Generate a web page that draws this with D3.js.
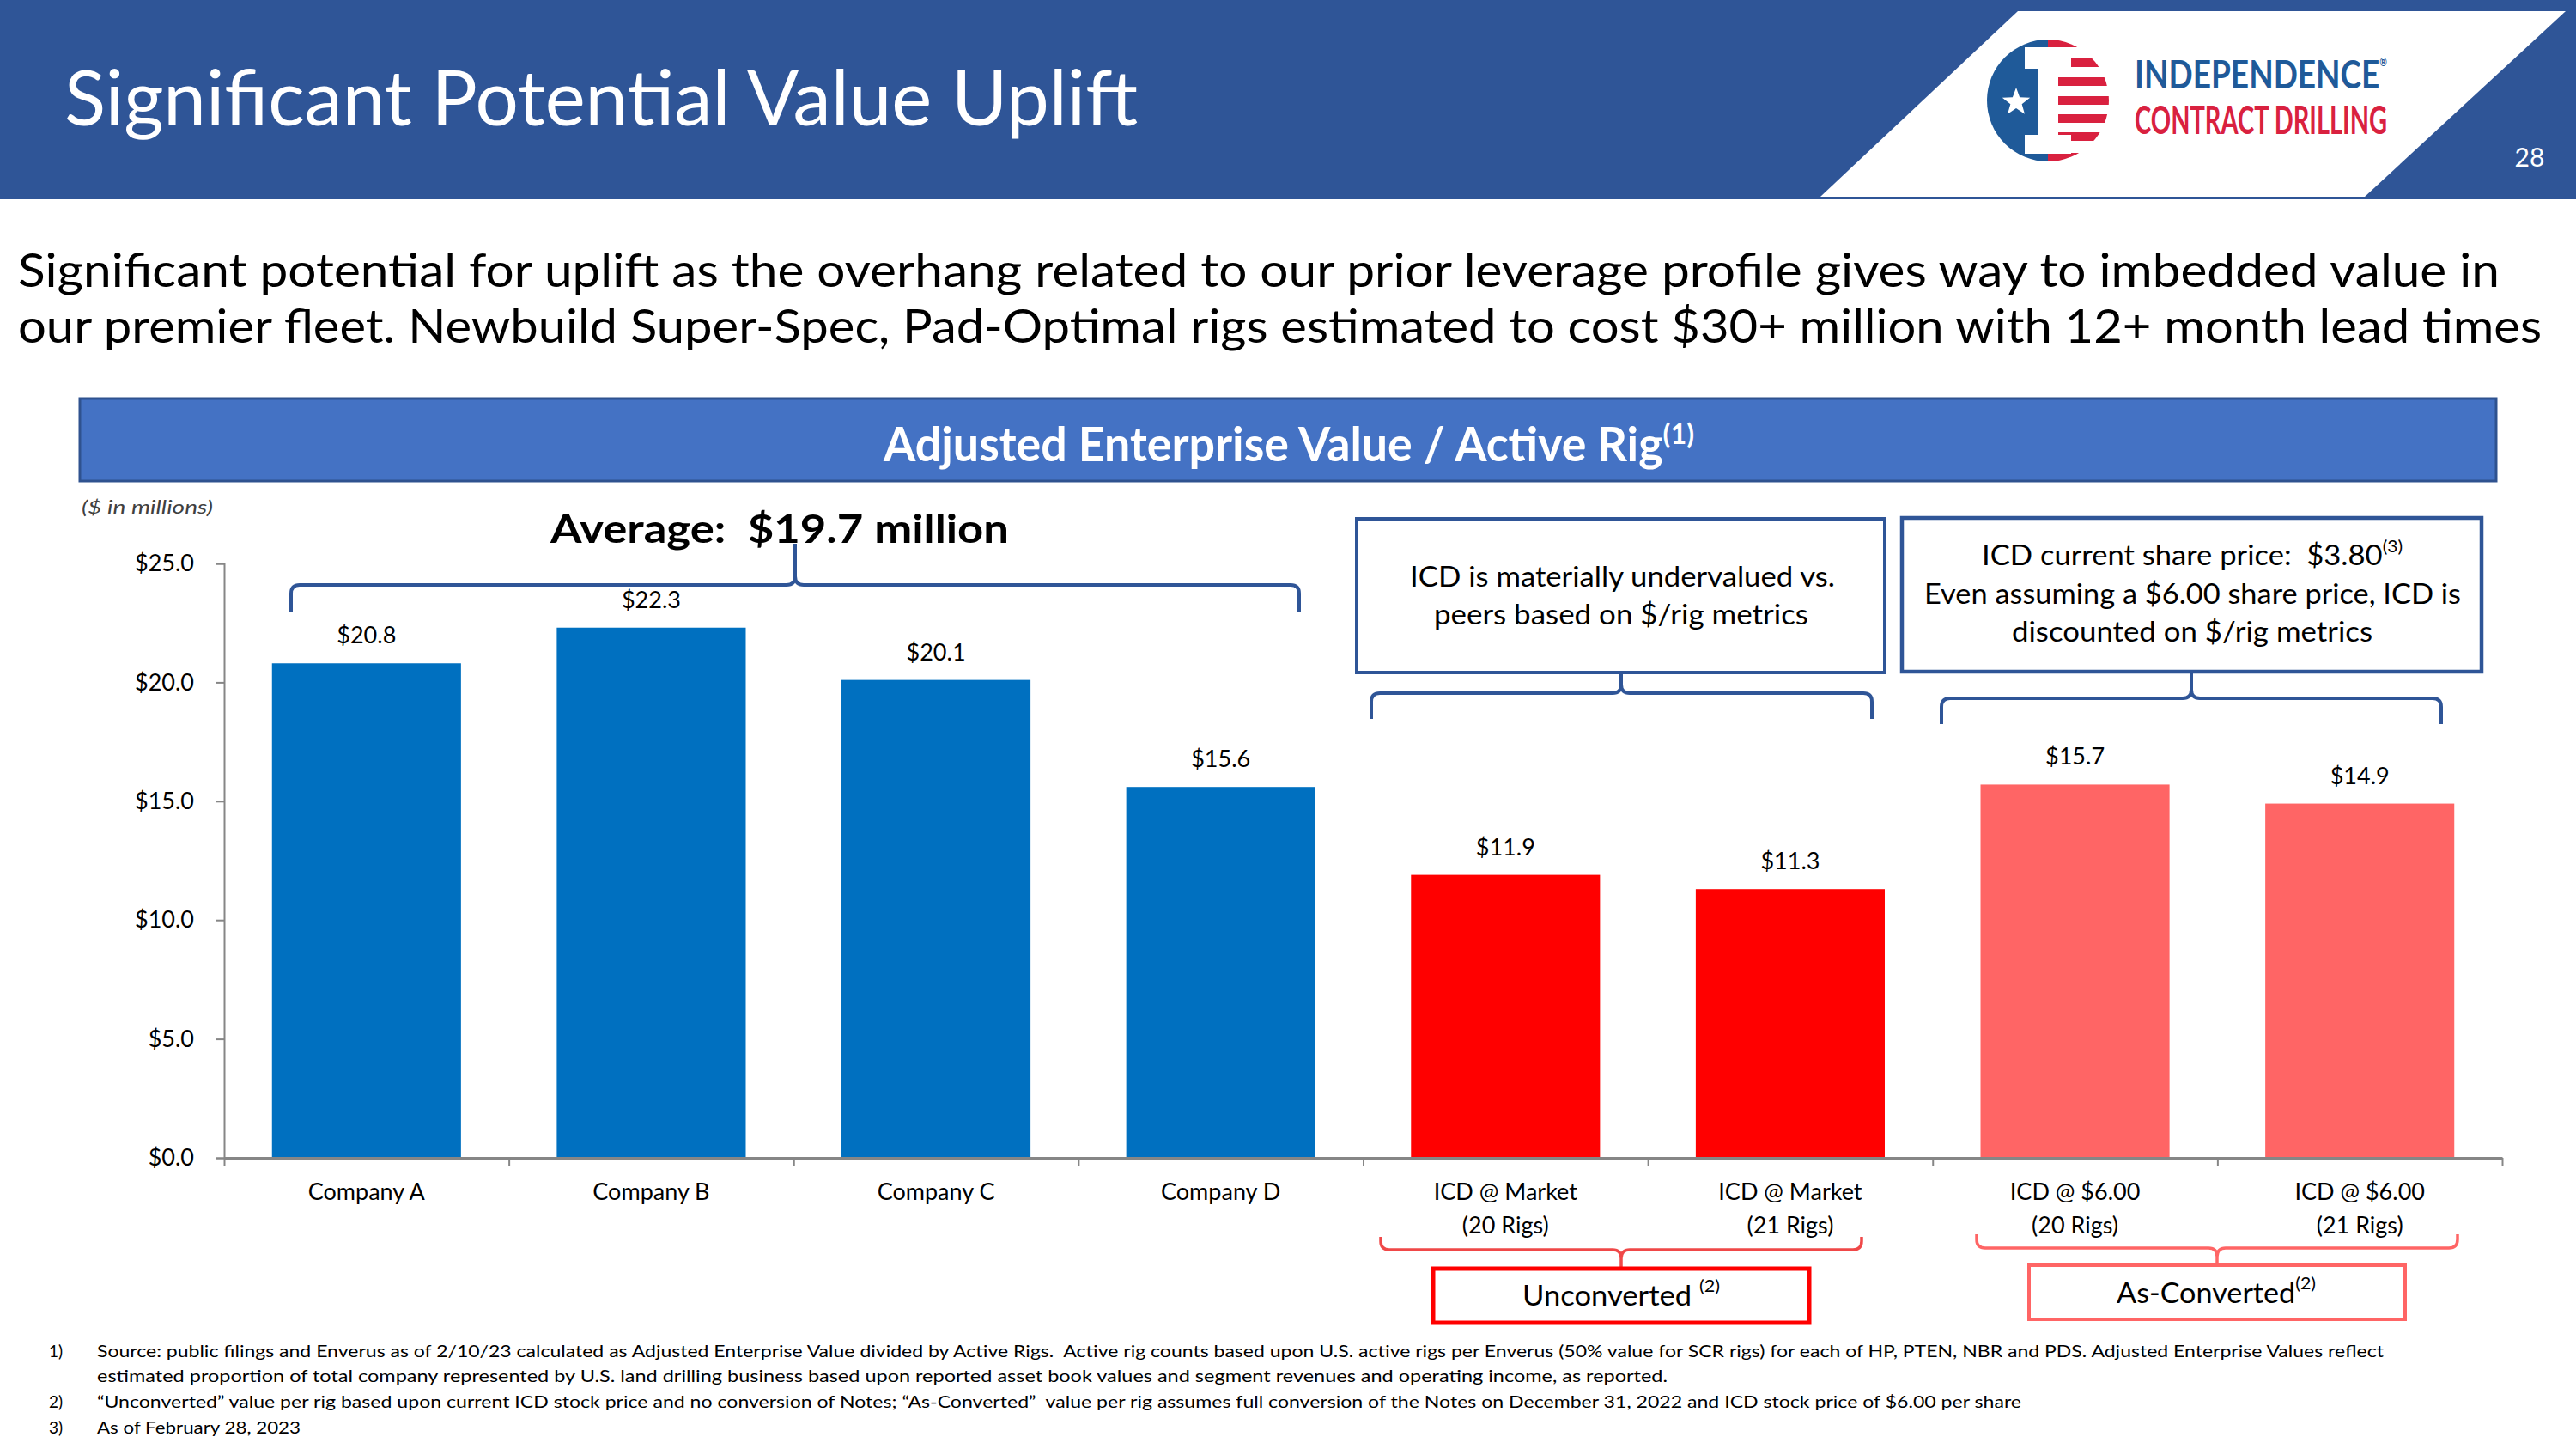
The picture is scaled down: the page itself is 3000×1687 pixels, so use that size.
<!DOCTYPE html>
<html>
<head>
<meta charset="utf-8">
<script src="https://cdn.jsdelivr.net/npm/d3@7"></script>
<style>
  html, body { margin: 0; padding: 0; background: #ffffff; }
  svg { display: block; }
  text { font-family: Lato, "Open Sans", sans-serif; white-space: pre; }
</style>
</head>
<body>
<svg id="chart" width="3000" height="1687"></svg>
<script>
// ---------------- data ----------------
const categoryLine1 = ["Company A", "Company B", "Company C", "Company D", "ICD @ Market", "ICD @ Market", "ICD @ $6.00", "ICD @ $6.00"];
const categoryLine2 = ["", "", "", "", "(20 Rigs)", "(21 Rigs)", "(20 Rigs)", "(21 Rigs)"];
const values = [20.8, 22.3, 20.1, 15.6, 11.9, 11.3, 15.7, 14.9];
const groups = ["peer", "peer", "peer", "peer", "unconverted", "unconverted", "converted", "converted"];
const yTickValues = [0, 5, 10, 15, 20, 25];
const groupColors = { peer: "#0070C0", unconverted: "#FF0000", converted: "#FF6565" };

const titleText = "Significant Potential Value Uplift";
const subtitleLines = [
  "Significant potential for uplift as the overhang related to our prior leverage profile gives way to imbedded value in",
  "our premier fleet. Newbuild Super-Spec, Pad-Optimal rigs estimated to cost $30+ million with 12+ month lead times"
];
const chartTitle = "Adjusted Enterprise Value / Active Rig";
const averageText = "Average:  $19.7 million";
const box1Lines = ["ICD is materially undervalued vs.", "peers based on $/rig metrics"];
const box2Lines = ["ICD current share price:  $3.80", "Even assuming a $6.00 share price, ICD is", "discounted on $/rig metrics"];
const footnoteNums = ["1)", "", "2)", "3)"];
const footnotes = [
  "Source: public filings and Enverus as of 2/10/23 calculated as Adjusted Enterprise Value divided by Active Rigs.  Active rig counts based upon U.S. active rigs per Enverus (50% value for SCR rigs) for each of HP, PTEN, NBR and PDS. Adjusted Enterprise Values reflect",
  "estimated proportion of total company represented by U.S. land drilling business based upon reported asset book values and segment revenues and operating income, as reported.",
  "\u201CUnconverted\u201D value per rig based upon current ICD stock price and no conversion of Notes; \u201CAs-Converted\u201D  value per rig assumes full conversion of the Notes on December 31, 2022 and ICD stock price of $6.00 per share",
  "As of February 28, 2023"
];

// ---------------- setup ----------------
const svg = d3.select("#chart");
const keys = categoryLine1.map((c, i) => c + " " + categoryLine2[i] + "#" + i);
const rows = keys.map((k, i) => ({ key: k, l1: categoryLine1[i], l2: categoryLine2[i], v: values[i], g: groups[i] }));

const x = d3.scaleBand().domain(keys).range([261, 2914]).paddingInner(0.3363).paddingOuter(0.16815);
const y = d3.scaleLinear().domain([0, 25]).range([1348, 656]);

function fitText(sel, w) {
  sel.attr("textLength", w).attr("lengthAdjust", "spacingAndGlyphs");
  return sel;
}
// text with a superscript tspan, fitted as a whole
function supText(xp, yp, size, main, sup, supSize, rise, w, opts) {
  const t = svg.append("text").attr("x", xp).attr("y", yp).attr("font-size", size).attr("fill", opts.fill || "#000");
  if (opts.weight) t.attr("font-weight", opts.weight);
  if (opts.family) t.attr("font-family", opts.family);
  t.append("tspan").text(main);
  t.append("tspan").attr("font-size", supSize).attr("dy", -rise).text(sup);
  return fitText(t, w);
}

// ---------------- header band ----------------
svg.append("rect").attr("x", 0).attr("y", 0).attr("width", 3000).attr("height", 232).attr("fill", "#2F5597");
fitText(svg.append("text").attr("x", 75).attr("y", 146).attr("fill", "#fff")
  .attr("font-size", 89).text(titleText), 1250);

// logo plate
svg.append("polygon").attr("points", "2350,13 2988,13 2754,229 2120,229").attr("fill", "#fff");
const logo = svg.append("g");
logo.append("clipPath").attr("id", "logoClip").append("circle").attr("cx", 2385).attr("cy", 117).attr("r", 71);
const lg = logo.append("g").attr("clip-path", "url(#logoClip)");
lg.append("rect").attr("x", 2310).attr("y", 40).attr("width", 76).attr("height", 160).attr("fill", "#1F5A99");
lg.append("rect").attr("x", 2385).attr("y", 40).attr("width", 80).attr("height", 160).attr("fill", "#fff");
[[40, 55], [68, 78], [90, 100], [112, 122], [133, 143], [154, 164], [178, 200]].forEach(s => {
  lg.append("rect").attr("x", 2385).attr("y", s[0]).attr("width", 80).attr("height", s[1] - s[0]).attr("fill", "#D9213F");
});
// white "I"
lg.append("rect").attr("x", 2358).attr("y", 55).attr("width", 54).attr("height", 25).attr("fill", "#fff");
lg.append("rect").attr("x", 2373).attr("y", 78).attr("width", 24).attr("height", 82).attr("fill", "#fff");
lg.append("rect").attr("x", 2358).attr("y", 157).attr("width", 54).attr("height", 22).attr("fill", "#fff");
// star
const starPts = d3.range(10).map(i => {
  const a = -Math.PI / 2 + i * Math.PI / 5, r = i % 2 ? 7 : 17;
  return [2348 + r * Math.cos(a), 119 + r * Math.sin(a)].join(",");
}).join(" ");
lg.append("polygon").attr("points", starPts).attr("fill", "#fff");

const logoFont = "'Liberation Sans Narrow', Roboto, sans-serif";
supText(2486, 103, 46, "INDEPENDENCE", "\u00AE", 13, 26, 294, { fill: "#1F5A99", weight: 700, family: logoFont });
fitText(svg.append("text").attr("x", 2486).attr("y", 156).attr("fill", "#D9213F")
  .attr("font-family", logoFont).attr("font-weight", 700)
  .attr("font-size", 46).text("CONTRACT DRILLING"), 294);
svg.append("text").attr("x", 2946).attr("y", 194).attr("fill", "#fff").attr("font-size", 30)
  .attr("text-anchor", "middle").text("28");

// ---------------- subtitle ----------------
fitText(svg.append("text").attr("x", 21).attr("y", 334).attr("fill", "#000").attr("font-size", 55).text(subtitleLines[0]), 2890);
fitText(svg.append("text").attr("x", 21).attr("y", 399).attr("fill", "#000").attr("font-size", 55).text(subtitleLines[1]), 2939);

// ---------------- chart title bar ----------------
svg.append("rect").attr("x", 93).attr("y", 464).attr("width", 2814).attr("height", 96)
  .attr("fill", "#4472C4").attr("stroke", "#2F528F").attr("stroke-width", 3);
supText(1029, 537, 55, chartTitle, "(1)", 33, 20, 944, { fill: "#fff", weight: 700 });

// units
fitText(svg.append("text").attr("x", 95).attr("y", 598).attr("fill", "#404040").attr("font-style", "italic")
  .attr("font-size", 21).text("($ in millions)"), 153);

// ---------------- axes ----------------
const yAxis = svg.append("g").attr("transform", "translate(261,0)")
  .call(d3.axisLeft(y).tickValues(yTickValues).tickSize(10).tickPadding(25).tickFormat(d => "$" + d3.format(".1f")(d)));
yAxis.select(".domain").attr("stroke", "#868686").attr("stroke-width", 2);
yAxis.selectAll(".tick line").attr("stroke", "#868686").attr("stroke-width", 2);
yAxis.selectAll(".tick text").attr("font-family", "Lato, sans-serif").attr("font-size", 27).attr("fill", "#000");

// bars
svg.append("g").selectAll("rect").data(rows).join("rect")
  .attr("x", d => x(d.key)).attr("width", x.bandwidth())
  .attr("y", d => y(d.v)).attr("height", d => y(0) - y(d.v))
  .attr("fill", d => groupColors[d.g]);

// value labels
svg.append("g").selectAll("text").data(rows).join("text")
  .attr("x", d => x(d.key) + x.bandwidth() / 2).attr("y", d => y(d.v) - 23)
  .attr("text-anchor", "middle").attr("font-size", 27).attr("fill", "#000")
  .text(d => "$" + d3.format(".1f")(d.v));

// x axis with category-boundary ticks
const xb = d3.scaleLinear().domain([0, keys.length]).range(x.range());
const xAxis = svg.append("g").attr("transform", `translate(0,${y(0)})`)
  .call(d3.axisBottom(xb).ticks(keys.length).tickSize(9).tickSizeOuter(0).tickFormat(""));
xAxis.select(".domain").attr("stroke", "#868686").attr("stroke-width", 3);
xAxis.selectAll(".tick line").attr("stroke", "#868686").attr("stroke-width", 2);

const catG = svg.append("g").selectAll("g").data(rows).join("g")
  .attr("transform", d => `translate(${x(d.key) + x.bandwidth() / 2},0)`);
catG.append("text").attr("y", 1397).attr("text-anchor", "middle").attr("font-size", 27).attr("fill", "#000").text(d => d.l1);
catG.append("text").attr("y", 1436).attr("text-anchor", "middle").attr("font-size", 27).attr("fill", "#000").text(d => d.l2);

// ---------------- annotations ----------------
function brace(x1, x2, xm, yLine, yEnd, yTip, r) {
  const se = Math.sign(yEnd - yLine), st = Math.sign(yTip - yLine);
  return `M${x1},${yEnd} L${x1},${yLine + se * r} Q${x1},${yLine} ${x1 + r},${yLine} ` +
    `L${xm - r},${yLine} Q${xm},${yLine} ${xm},${yLine + st * r} L${xm},${yTip} ` +
    `M${xm},${yLine + st * r} Q${xm},${yLine} ${xm + r},${yLine} ` +
    `L${x2 - r},${yLine} Q${x2},${yLine} ${x2},${yLine + se * r} L${x2},${yEnd}`;
}
const braceSpecs = [
  { b: [339, 1513, 926, 681, 712, 633, 10], c: "#2F5597", w: 4 },
  { b: [1597, 2180, 1888, 807, 837, 783, 10], c: "#2F5597", w: 4 },
  { b: [2261, 2843, 2552, 813, 843, 782, 10], c: "#2F5597", w: 4 },
  { b: [1608, 2168, 1888, 1455, 1440, 1477, 10], c: "#F04848", w: 3.5 },
  { b: [2302, 2862, 2582, 1453, 1437, 1473, 10], c: "#FF6565", w: 3.5 }
];
svg.append("g").selectAll("path").data(braceSpecs).join("path")
  .attr("d", d => brace(...d.b)).attr("fill", "none").attr("stroke", d => d.c).attr("stroke-width", d => d.w);

// average
fitText(svg.append("text").attr("x", 641).attr("y", 632).attr("fill", "#000").attr("font-weight", 700)
  .attr("font-size", 46).text(averageText), 534);

// box 1
svg.append("rect").attr("x", 1580).attr("y", 604).attr("width", 615).attr("height", 179)
  .attr("fill", "#fff").attr("stroke", "#2F5597").attr("stroke-width", 4);
fitText(svg.append("text").attr("x", 1642).attr("y", 683).attr("font-size", 33).attr("fill", "#000").text(box1Lines[0]), 495);
fitText(svg.append("text").attr("x", 1670).attr("y", 727).attr("font-size", 33).attr("fill", "#000").text(box1Lines[1]), 436);

// box 2
svg.append("rect").attr("x", 2215).attr("y", 603).attr("width", 675).attr("height", 179)
  .attr("fill", "#fff").attr("stroke", "#2F5597").attr("stroke-width", 4.5);
supText(2308, 658, 33, box2Lines[0], "(3)", 20, 15, 490, {});
fitText(svg.append("text").attr("x", 2241).attr("y", 703).attr("font-size", 33).attr("fill", "#000").text(box2Lines[1]), 625);
fitText(svg.append("text").attr("x", 2343).attr("y", 747).attr("font-size", 33).attr("fill", "#000").text(box2Lines[2]), 420);

// unconverted / as-converted boxes
svg.append("rect").attr("x", 1669).attr("y", 1477).attr("width", 438).attr("height", 63)
  .attr("fill", "#fff").attr("stroke", "#FF0000").attr("stroke-width", 5);
supText(1773, 1520, 32, "Unconverted ", "(2)", 20, 16, 230, {});

svg.append("rect").attr("x", 2363).attr("y", 1473).attr("width", 438).attr("height", 63)
  .attr("fill", "#fff").attr("stroke", "#FF6565").attr("stroke-width", 4);
supText(2465, 1517, 32, "As-Converted", "(2)", 20, 16, 232, {});

// ---------------- footnotes ----------------
const fnY = [1580, 1609, 1639, 1669];
const fnW = [2663, 1829, 2241, 237];
footnotes.forEach((t, i) => {
  if (footnoteNums[i]) svg.append("text").attr("x", 57).attr("y", fnY[i]).attr("font-size", 19).attr("fill", "#000").text(footnoteNums[i]);
  fitText(svg.append("text").attr("x", 113).attr("y", fnY[i]).attr("font-size", 19).attr("fill", "#000").text(t), fnW[i]);
});
</script>
</body>
</html>
